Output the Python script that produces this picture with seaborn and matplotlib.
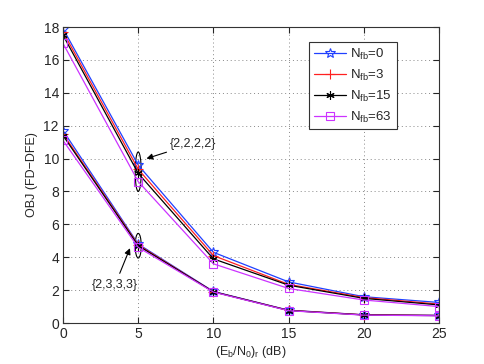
import matplotlib
matplotlib.use("Agg")
import matplotlib.pyplot as plt
from matplotlib.patches import Ellipse
import seaborn as sns
import pandas as pd

snr_db = [0, 5, 10, 15, 20, 25]
labels = ["N$_{fb}$=0", "N$_{fb}$=3", "N$_{fb}$=15", "N$_{fb}$=63"]
colors = ["#2040ff", "#ff2020", "#000000", "#cc33ff"]
markers = ["*", "+", (6, 2, 0), "s"]
msizes = [7, 7, 6, 6]

# {2,2,2,2} group (upper curves)
upper = [
    [17.9, 9.6, 4.3, 2.5, 1.6, 1.25],
    [17.7, 9.35, 4.1, 2.35, 1.55, 1.15],
    [17.5, 9.1, 3.9, 2.3, 1.5, 1.1],
    [17.0, 8.6, 3.6, 2.1, 1.4, 1.0],
]
# {2,3,3,3} group (lower curves)
lower = [
    [11.7, 4.8, 1.92, 0.78, 0.5, 0.47],
    [11.5, 4.75, 1.9, 0.77, 0.5, 0.46],
    [11.4, 4.7, 1.9, 0.76, 0.49, 0.45],
    [11.1, 4.6, 1.88, 0.75, 0.48, 0.44],
]

sns.set_style("ticks")
plt.rcParams["font.family"] = ["Liberation Sans", "DejaVu Sans"]
plt.rcParams["mathtext.default"] = "regular"

fig = plt.figure(figsize=(4.85, 3.64), dpi=100)
ax = fig.add_axes([0.130, 0.1126, 0.775, 0.8132])

for i in range(4):
    for grp, lab in ((upper, labels[i]), (lower, None)):
        df = pd.DataFrame({"x": snr_db, "y": grp[i]})
        sns.lineplot(data=df, x="x", y="y", ax=ax, color=colors[i], lw=0.9,
                     marker=markers[i], markersize=msizes[i], mfc="none",
                     mec=colors[i], mew=0.8, label=lab)

# ellipses and annotations
ax.add_patch(Ellipse((5, 9.2), 0.4, 2.4, fill=False, ec="black", lw=0.8))
ax.add_patch(Ellipse((5, 4.7), 0.4, 1.5, fill=False, ec="black", lw=0.8))
ax.annotate("{2,2,2,2}", xy=(5.55, 10.0), xytext=(7.1, 10.9), fontsize=9,
            va="center", ha="left",
            arrowprops=dict(arrowstyle="-|>", color="black", lw=0.8,
                            shrinkA=0, shrinkB=0))
ax.annotate("{2,3,3,3}", xy=(4.45, 4.55), xytext=(3.45, 2.3), fontsize=9,
            va="center", ha="center",
            arrowprops=dict(arrowstyle="-|>", color="black", lw=0.8,
                            shrinkA=2, shrinkB=0))

ax.set_xlim(0, 25)
ax.set_ylim(0, 18)
ax.set_xticks(snr_db)
ax.set_yticks(range(0, 19, 2))
ax.grid(True, ls=(0, (1, 3)), color="#888888", lw=0.7)
ax.tick_params(direction="in", labelsize=10, top=True, right=True, length=4,
               pad=3)
for s in ax.spines.values():
    s.set_color("#333333")
    s.set_linewidth(0.8)
ax.set_xlabel("(E$_b$/N$_0$)$_r$ (dB)", fontsize=9, labelpad=2)
ax.set_ylabel("OBJ (FD\u2212DFE)", fontsize=9, labelpad=4)

leg = ax.legend(loc="upper right", bbox_to_anchor=(0.888, 0.95), fontsize=9.5,
                fancybox=False, edgecolor="#333333", framealpha=1,
                handlelength=2.5, labelspacing=0.45, borderpad=0.35,
                handletextpad=0.3, borderaxespad=0)
leg.get_frame().set_linewidth(0.8)

fig.savefig("out.png", dpi=100)
